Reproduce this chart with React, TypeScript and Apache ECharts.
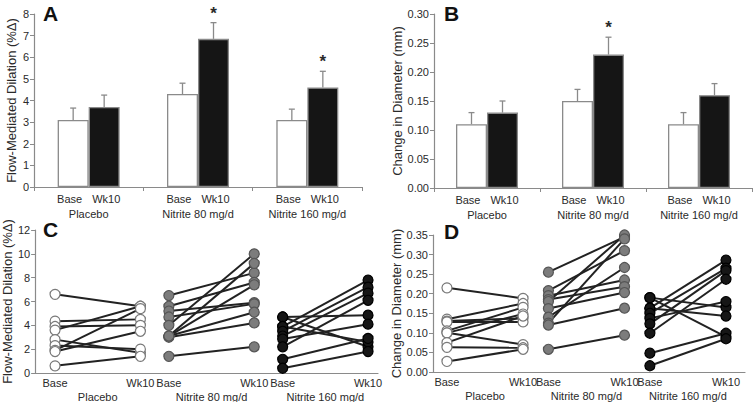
import React, { useEffect, useRef } from "react";
import * as echarts from "echarts";

const groups = ["Placebo", "Nitrite 80 mg/d", "Nitrite 160 mg/d"];
const timeLabels = ["Base", "Wk10"];

// Panel A: FMD means and upper error values
const fmdBaseMean = [3.1, 4.3, 3.1];
const fmdWk10Mean = [3.7, 6.85, 4.6];
const fmdBaseErrTop = [3.65, 4.8, 3.6];
const fmdWk10ErrTop = [4.25, 7.6, 5.35];
const fmdSig = [false, true, true];

// Panel B: diameter change means and upper error values
const diamBaseMean = [0.11, 0.15, 0.11];
const diamWk10Mean = [0.13, 0.23, 0.16];
const diamBaseErrTop = [0.13, 0.17, 0.13];
const diamWk10ErrTop = [0.15, 0.26, 0.18];
const diamSig = [false, true, false];

// Panel C: individual FMD (%Δ)
const fmdPlaceboBase = [6.6, 4.35, 3.9, 3.6, 2.8, 2.3, 1.9, 1.8, 0.6];
const fmdPlaceboWk10 = [5.6, 4.5, 4.0, 5.6, 1.7, 2.0, 5.4, 3.5, 1.4];
const fmdN80Base = [6.5, 5.6, 5.2, 4.7, 4.0, 3.1, 3.1, 3.0, 3.1, 1.4];
const fmdN80Wk10 = [8.4, 7.6, 5.9, 5.8, 10.0, 9.2, 5.1, 4.2, 7.4, 2.2];
const fmdN160Base = [4.7, 4.7, 3.9, 3.9, 3.5, 3.1, 2.85, 2.2, 1.15, 0.4];
const fmdN160Wk10 = [4.85, 2.2, 7.8, 2.6, 7.2, 6.7, 4.1, 6.1, 2.9, 1.8];

// Panel D: individual change in diameter (mm)
const diamPlaceboBase = [0.215, 0.135, 0.13, 0.128, 0.105, 0.1, 0.1, 0.075, 0.063, 0.027];
const diamPlaceboWk10 = [0.188, 0.175, 0.137, 0.128, 0.165, 0.07, 0.148, 0.143, 0.062, 0.058];
const diamN80Base = [0.255, 0.208, 0.195, 0.185, 0.18, 0.162, 0.14, 0.125, 0.12, 0.058];
const diamN80Wk10 = [0.345, 0.31, 0.235, 0.218, 0.35, 0.203, 0.267, 0.34, 0.163, 0.094];
const diamN160Base = [0.19, 0.19, 0.163, 0.163, 0.15, 0.137, 0.123, 0.099, 0.048, 0.016];
const diamN160Wk10 = [0.09, 0.165, 0.286, 0.143, 0.265, 0.18, 0.259, 0.237, 0.099, 0.085];

const FONT = "Liberation Sans, Arial, sans-serif";
const AXIS_GRAY = "#8a8a8a";
const TEXT = "#2a2a2a";

const groupFill = ["#ffffff", "#7c7c7c", "#161616"];
const groupBorder = ["#7a7a7a", "#555555", "#000000"];

function errSeries(xi: number, yi: number, means: number[], tops: number[], sig: boolean[], offset: number) {
  return {
    type: "custom",
    xAxisIndex: xi,
    yAxisIndex: yi,
    z: 4,
    silent: true,
    data: means.map((m, i) => [i, m, tops[i], sig[i] ? 1 : 0]),
    renderItem: (params: any, api: any) => {
      const c = api.value(0);
      const p0 = api.coord([c, api.value(1)]);
      const p1 = api.coord([c, api.value(2)]);
      const x = p0[0] + offset;
      const children: any[] = [
        { type: "line", shape: { x1: x, y1: p0[1], x2: x, y2: p1[1] }, style: { stroke: AXIS_GRAY, lineWidth: 1.3 } },
        { type: "line", shape: { x1: x - 3, y1: p1[1], x2: x + 3, y2: p1[1] }, style: { stroke: AXIS_GRAY, lineWidth: 1.3 } },
      ];
      if (api.value(3)) {
        children.push({
          type: "text",
          style: { text: "*", x, y: p1[1] - 1, textAlign: "center", textVerticalAlign: "bottom", font: `bold 17px ${FONT}`, fill: TEXT },
        });
      }
      return { type: "group", children };
    },
  };
}

function barSeries(xi: number, yi: number, data: number[], fill: string) {
  return {
    type: "bar",
    xAxisIndex: xi,
    yAxisIndex: yi,
    data,
    barWidth: 31,
    barGap: "0%",
    silent: true,
    itemStyle: { color: fill, borderColor: AXIS_GRAY, borderWidth: 1.3 },
  };
}

function pairSeries(xi: number, yi: number, base: number[], wk: number[], g: number) {
  const xb = 1 + 4 * g;
  const xw = 4 + 4 * g;
  return base.map((b, i) => ({
    type: "line",
    xAxisIndex: xi,
    yAxisIndex: yi,
    data: [[xb, b], [xw, wk[i]]],
    symbol: "circle",
    symbolSize: 10,
    silent: true,
    lineStyle: { color: "#222", width: 2 },
    itemStyle: { color: groupFill[g], borderColor: groupBorder[g], borderWidth: 1.2 },
  }));
}

function catXAxis(gridIndex: number) {
  return {
    type: "category",
    gridIndex,
    data: groups,
    axisLine: { lineStyle: { color: AXIS_GRAY, width: 1.2 } },
    axisTick: { show: true, length: 4, lineStyle: { color: AXIS_GRAY } },
    axisLabel: {
      interval: 0,
      margin: 4,
      lineHeight: 15,
      formatter: (v: string) => `{b|${timeLabels[0]}}{w|${timeLabels[1]}}\n{g|${v}}`,
      rich: {
        b: { fontSize: 11, color: TEXT, fontFamily: FONT, lineHeight: 15, padding: [0, 5, 0, 0] },
        w: { fontSize: 11, color: TEXT, fontFamily: FONT, lineHeight: 15, padding: [0, 0, 0, 5] },
        g: { fontSize: 11, color: TEXT, fontFamily: FONT, lineHeight: 15 },
      },
    },
    splitLine: { show: false },
  };
}

const pairPositions = [1, 4, 5, 8, 9, 12];
const groupCenters = [2.5, 6.5, 10.5];

function valXAxes(gridIndex: number, min: number, max: number) {
  return [
    {
      type: "value",
      gridIndex,
      min,
      max,
      position: "bottom",
      axisLine: { show: true, lineStyle: { color: AXIS_GRAY, width: 1.2 } },
      axisTick: { show: false },
      splitLine: { show: false },
      axisLabel: {
        customValues: pairPositions,
        formatter: (v: number) => timeLabels[pairPositions.indexOf(v) % 2] ?? "",
        fontSize: 11,
        color: TEXT,
        fontFamily: FONT,
        margin: 4,
      },
    },
    {
      type: "value",
      gridIndex,
      min,
      max,
      position: "bottom",
      axisLine: { show: false },
      axisTick: { show: false },
      splitLine: { show: false },
      axisLabel: {
        customValues: groupCenters,
        formatter: (v: number) => groups[groupCenters.indexOf(v)] ?? "",
        fontSize: 11,
        color: TEXT,
        fontFamily: FONT,
        margin: 18,
      },
    },
  ];
}

function yAxis(gridIndex: number, min: number, max: number, interval: number, name: string, nameGap: number, digits: number) {
  return {
    type: "value",
    gridIndex,
    min,
    max,
    interval,
    name,
    nameLocation: "middle",
    nameGap,
    nameTextStyle: { fontSize: 13, color: TEXT, fontFamily: FONT },
    axisLine: { show: true, lineStyle: { color: AXIS_GRAY, width: 1.2 } },
    axisTick: { show: true, length: 4, lineStyle: { color: AXIS_GRAY } },
    splitLine: { show: false },
    axisLabel: {
      fontSize: 11,
      color: TEXT,
      fontFamily: FONT,
      margin: 5,
      formatter: (v: number) => v.toFixed(digits),
    },
  };
}

function letter(t: string, x: number, y: number) {
  return {
    type: "text",
    x,
    y,
    style: { text: t, font: `bold 21px ${FONT}`, fill: "#111", textVerticalAlign: "top" },
  };
}

export default function App() {
  const ref = useRef<HTMLDivElement>(null);
  useEffect(() => {
    if (!ref.current) return;
    const chart = echarts.init(ref.current, undefined, { renderer: "svg" });
    const series: any[] = [
      barSeries(0, 0, fmdBaseMean, "#ffffff"),
      barSeries(0, 0, fmdWk10Mean, "#151515"),
      errSeries(0, 0, fmdBaseMean, fmdBaseErrTop, [false, false, false], -15.5),
      errSeries(0, 0, fmdWk10Mean, fmdWk10ErrTop, fmdSig, 15.5),
      barSeries(1, 1, diamBaseMean, "#ffffff"),
      barSeries(1, 1, diamWk10Mean, "#151515"),
      errSeries(1, 1, diamBaseMean, diamBaseErrTop, [false, false, false], -15.5),
      errSeries(1, 1, diamWk10Mean, diamWk10ErrTop, diamSig, 15.5),
      ...pairSeries(2, 2, fmdPlaceboBase, fmdPlaceboWk10, 0),
      ...pairSeries(2, 2, fmdN80Base, fmdN80Wk10, 1),
      ...pairSeries(2, 2, fmdN160Base, fmdN160Wk10, 2),
      ...pairSeries(4, 3, diamPlaceboBase, diamPlaceboWk10, 0),
      ...pairSeries(4, 3, diamN80Base, diamN80Wk10, 1),
      ...pairSeries(4, 3, diamN160Base, diamN160Wk10, 2),
    ];
    chart.setOption({
      animation: false,
      backgroundColor: "#ffffff",
      textStyle: { fontFamily: FONT },
      grid: [
        { left: 34, top: 14, width: 328, height: 173 },
        { left: 434, top: 14, width: 318, height: 174 },
        { left: 33, top: 230, width: 345, height: 143 },
        { left: 433, top: 235, width: 312, height: 137 },
      ],
      xAxis: [catXAxis(0), catXAxis(1), ...valXAxes(2, 0.3, 12.35), ...valXAxes(3, 0.45, 12.75)],
      yAxis: [
        yAxis(0, 0, 8, 1, "Flow-Mediated Dilation (%Δ)", 16, 0),
        yAxis(1, 0, 0.3, 0.05, "Change in Diameter (mm)", 25, 2),
        yAxis(2, 0, 12, 2, "Flow-Mediated Dilation (%Δ)", 16, 0),
        yAxis(3, 0, 0.35, 0.05, "Change in Diameter (mm)", 29, 2),
      ],
      graphic: [letter("A", 43, 3), letter("B", 444, 3), letter("C", 43, 219), letter("D", 444, 221)],
      series,
    });
    return () => chart.dispose();
  }, []);
  return <div ref={ref} style={{ position: "fixed", left: 0, top: 0, width: 753, height: 402 }} />;
}
